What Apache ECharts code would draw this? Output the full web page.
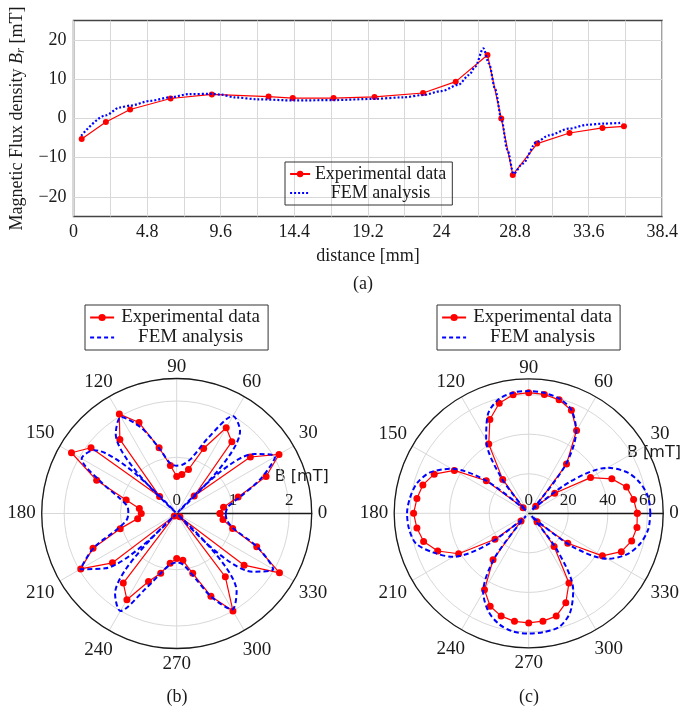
<!DOCTYPE html>
<html><head><meta charset="utf-8">
<script src="https://cdn.jsdelivr.net/npm/echarts@6/dist/echarts.min.js"></script>
<style>html,body{margin:0;padding:0;background:#fff}#c{width:681px;height:707px}</style>
</head><body><div id="c"></div><script>
// (a) line profile
const distExp = [0.53,2.11,3.69,6.33,9.02,12.72,14.3,16.96,19.63,22.8,24.93,27.0,27.9,28.65,30.24,32.35,34.5,35.9];
const brExp   = [-5.2,-0.9,2.3,5.1,6.15,5.6,5.2,5.2,5.5,6.5,9.4,16.2,0,-14.4,-6.4,-3.7,-2.4,-2.0];
const distFem = [0.5,2.1,3.0,3.7,5.0,6.3,7.5,9.0,9.6,10.5,12.0,14.4,17.0,19.6,21.5,22.8,24.0,25.1,25.8,26.2,26.73,27.1,27.5,27.9,28.3,28.7,29.3,30.2,31.0,32.3,33.5,34.6,35.8];
const brFem   = [-4.4,0.8,2.8,3.3,4.5,5.4,6.2,6.3,6.1,5.4,4.9,4.6,4.7,5.0,5.4,6.0,7.0,8.6,11.1,13.2,17.9,14.0,7.5,0,-8,-14.1,-11.5,-6.0,-4.3,-2.6,-1.6,-1.3,-1.1];
const xTicks = ['0','4.8','9.6','14.4','19.2','24','28.8','33.6','38.4'];
const yTicks = ['−20','−10','0','10','20'];
// (b) and (c) polar: angle in degrees
const angles = [0,7.5,15,22.5,30,37.5,45,52.5,60,67.5,75,82.5,90,97.5,105,112.5,120,127.5,135,142.5,150,157.5,165,172.5,180,187.5,195,202.5,210,217.5,225,232.5,240,247.5,255,262.5,270,277.5,285,292.5,300,307.5,315,322.5,330,337.5,345,352.5,360];
const expB = [0.77,0.84,1.13,1.72,2.10,1.65,0.44,1.61,1.76,1.25,0.81,0.70,0.66,0.86,1.21,1.75,2.04,1.66,0.43,1.92,2.16,1.54,0.93,0.67,0.63,0.70,1.04,1.61,1.97,1.44,0.06,1.56,1.77,1.31,1.10,0.89,0.80,0.84,1.10,1.59,2.00,1.42,0.08,1.51,2.11,1.54,1.03,0.83,0.77];
const femB = [0.87,0.92,1.18,1.62,2.02,1.74,0.03,1.85,2.00,1.45,1.02,0.88,0.85,0.90,1.20,1.65,1.98,1.78,0.03,1.85,1.95,1.45,1.05,0.88,0.86,0.90,1.10,1.60,1.98,1.60,0.03,1.80,2.00,1.45,1.10,0.92,0.87,0.92,1.15,1.60,1.97,1.75,0.03,1.70,1.98,1.55,1.05,0.90,0.87];
const expC = [54.9,53.5,51.2,45.5,36.1,16.6,5,31.4,48.4,56.4,59.4,60.6,61.0,60.5,57.6,51.3,40.4,21.6,4,27.0,43.4,51.7,55.4,57.0,58.2,57.0,55.0,49.8,40.9,21.5,5.5,29.6,44.7,50.9,53.8,55.1,55.4,55.0,53.8,49.0,40.7,21.1,6,24.9,43.0,50.7,53.9,55.2,54.9];
const femC = [61.5,61.0,58.5,54.0,46.0,26.0,2,30,48,56.5,60,61.3,61.8,61.5,59.5,54,43,23,2,27,45,54,58.5,60.5,61.5,61,59,52,44,25,2,28,46,53.5,58,60.3,60.8,60.5,59.5,54.5,45,24,2,27,46,54,58.5,61,61.5];
const bTicks = ['0','1','2'];
const cTicks = ['0','20','40','60'];

const SERIF = '"Liberation Serif", "Times New Roman", serif';
const RED = '#ff0000', BLUE = '#0000ff', INK = '#1a1a1a', GRID = '#d8d8d8';
const pair = (xs, ys) => xs.map((x, i) => [x, ys[i]]);
const polarPairs = (rs) => rs.map((r, i) => [r, angles[i]]);

function legendFor(left, top, fs, textW, iconW, iconH, lh, femDash) {
  return {
    orient: 'vertical', left: left, top: top, padding: [3, 6, 3, 4], itemGap: 1,
    itemWidth: iconW, itemHeight: iconH, borderColor: '#333', borderWidth: 1,
    data: ['Experimental data', { name: 'FEM analysis',
      itemStyle: { color: 'rgba(0,0,0,0)', borderColor: 'rgba(0,0,0,0)', borderWidth: 0 },
      lineStyle: { color: BLUE, width: 2.2, type: femDash } }],
    selectedMode: false,
    formatter: '{c|{name}}',
    textStyle: { fontFamily: SERIF, fontSize: fs, color: INK,
      rich: { c: { width: textW, align: 'center', fontFamily: SERIF, fontSize: fs, lineHeight: lh, color: INK } } }
  };
}
const angRich = {
  n: { fontFamily: SERIF, fontSize: 19, color: INK, lineHeight: 10 },
  r: { fontFamily: SERIF, fontSize: 19, color: INK, width: 14, align: 'right' },
  l: { fontFamily: SERIF, fontSize: 19, color: INK, width: 22, align: 'left' },
  lb: { fontFamily: SERIF, fontSize: 19, color: INK, width: 22, align: 'left', lineHeight: 29 },
  rb: { fontFamily: SERIF, fontSize: 19, color: INK, width: 24, align: 'right', lineHeight: 29 }
};
function angleAxis(idx) {
  return {
    polarIndex: idx, type: 'value', min: 0, max: 360, interval: 30, startAngle: 0, clockwise: false,
    axisLine: { lineStyle: { color: INK, width: 1.3 } }, axisTick: { show: false },
    axisLabel: { margin: 6, fontFamily: SERIF, fontSize: 19, color: INK, rich: angRich,
      formatter: v => {
        if (v >= 360) return '';
        if (v === 90) return '{n|90}';
        if (v === 60) return '{r|60}';
        if (v === 300) return '{rb|300}';
        if (v === 120) return '{l|120}';
        if (v === 240) return '{lb|240}';
        return String(v);
      } },
    splitLine: { show: true, lineStyle: { color: GRID, width: 1 } }
  };
}
function radiusAxis(idx, max, step, ticks) {
  return {
    polarIndex: idx, type: 'value', min: 0, max: max, interval: step,
    axisLine: { lineStyle: { color: INK, width: 1.3 } }, axisTick: { show: false },
    axisLabel: { fontFamily: SERIF, fontSize: 17, color: INK, margin: 4,
      formatter: v => { const s = String(Math.round(v * 1000) / 1000); return ticks.includes(s) ? s : ''; } },
    splitLine: { show: true, lineStyle: { color: GRID, width: 1 } }
  };
}

const chart = echarts.init(document.getElementById('c'), null, { renderer: 'canvas' });
chart.setOption({
  backgroundColor: '#fff',
  animation: false,
  grid: { left: 68, top: 20.5, width: 600, height: 196, show: true, borderColor: '#444', borderWidth: 1.5, containLabel: false },
  xAxis: {
    type: 'value', min: 0, max: 38.4, interval: 2.4,
    name: 'distance [mm]', nameLocation: 'middle', nameGap: 31,
    nameTextStyle: { fontFamily: SERIF, fontSize: 18, color: INK },
    axisLine: { show: false }, axisTick: { show: false },
    axisLabel: { margin: 7, fontFamily: SERIF, fontSize: 18, color: INK,
      formatter: v => { const s = String(+v.toFixed(1)); return xTicks.includes(s) ? s : ''; } },
    splitLine: { show: true, lineStyle: { color: GRID } }
  },
  yAxis: {
    type: 'value', min: -25, max: 25, interval: 5,
    name: '{t|Magnetic Flux density }{i|B}{s|r}{t| [mT]}', nameLocation: 'middle', nameGap: 44,
    nameTextStyle: { fontFamily: SERIF, fontSize: 18, color: INK,
      rich: { t: { fontFamily: SERIF, fontSize: 18, color: INK },
              i: { fontFamily: SERIF, fontSize: 18, fontStyle: 'italic', color: INK },
              s: { fontFamily: SERIF, fontSize: 13, fontStyle: 'italic', color: INK, padding: [8, 0, 0, 0] } } },
    axisLine: { show: false }, axisTick: { show: false },
    axisLabel: { margin: 7, fontFamily: SERIF, fontSize: 18, color: INK,
      formatter: v => { const s = v < 0 ? '−' + Math.abs(v) : String(v); return yTicks.includes(s) ? s : ''; } },
    splitLine: { show: true, lineStyle: { color: ['rgba(0,0,0,0)', GRID] } }
  },
  polar: [
    { center: [176.7, 513.5], radius: 135 },
    { center: [528.7, 513.3], radius: 134.5 }
  ],
  angleAxis: [angleAxis(0), angleAxis(1)],
  radiusAxis: [radiusAxis(0, 2.4, 1, bTicks), radiusAxis(1, 68, 20, cTicks)],
  legend: [
    legendFor(285, 162, 18, 131, 20, 8, 20, [2, 2]),
    legendFor(85, 305, 19, 143, 24, 9, 22, [4, 3]),
    legendFor(437, 305, 19, 143, 24, 9, 22, [4, 3])
  ],
  graphic: [
    { type: 'text', x: 363, y: 284, style: { text: '(a)', font: '18px ' + SERIF, fill: INK, textAlign: 'center', textVerticalAlign: 'middle' } },
    { type: 'text', x: 177, y: 697, style: { text: '(b)', font: '18px ' + SERIF, fill: INK, textAlign: 'center', textVerticalAlign: 'middle' } },
    { type: 'text', x: 529, y: 697, style: { text: '(c)', font: '18px ' + SERIF, fill: INK, textAlign: 'center', textVerticalAlign: 'middle' } },
    { type: 'text', x: 301.7, y: 477, style: { text: 'B [mT]', font: '16px "DejaVu Sans", sans-serif', fill: INK, textAlign: 'center', textVerticalAlign: 'middle' } },
    { type: 'text', x: 654, y: 453, style: { text: 'B [mT]', font: '16px "DejaVu Sans", sans-serif', fill: INK, textAlign: 'center', textVerticalAlign: 'middle' } }
  ],
  series: [
    { name: 'Experimental data', type: 'line', xAxisIndex: 0, yAxisIndex: 0, data: pair(distExp, brExp),
      symbol: 'circle', symbolSize: 6, itemStyle: { color: RED }, lineStyle: { color: RED, width: 1.2 }, z: 3 },
    { name: 'FEM analysis', type: 'line', xAxisIndex: 0, yAxisIndex: 0, data: pair(distFem, brFem),
      symbol: 'none', smooth: 0.3, smoothMonotone: 'x', itemStyle: { color: BLUE }, lineStyle: { color: BLUE, width: 2.2, type: [2, 2] }, z: 4 },
    { name: 'Experimental data', type: 'line', coordinateSystem: 'polar', polarIndex: 0, data: polarPairs(expB),
      symbol: 'circle', symbolSize: 7, itemStyle: { color: RED }, lineStyle: { color: RED, width: 1.2 }, z: 3 },
    { name: 'FEM analysis', type: 'line', coordinateSystem: 'polar', polarIndex: 0, data: polarPairs(femB),
      symbol: 'none', smooth: 0.3, itemStyle: { color: BLUE }, lineStyle: { color: BLUE, width: 2, type: [5, 3] }, z: 4 },
    { name: 'Experimental data', type: 'line', coordinateSystem: 'polar', polarIndex: 1, data: polarPairs(expC),
      symbol: 'circle', symbolSize: 7, itemStyle: { color: RED }, lineStyle: { color: RED, width: 1.2 }, z: 3 },
    { name: 'FEM analysis', type: 'line', coordinateSystem: 'polar', polarIndex: 1, data: polarPairs(femC),
      symbol: 'none', smooth: 0.3, itemStyle: { color: BLUE }, lineStyle: { color: BLUE, width: 2, type: [5, 3] }, z: 4 }
  ]
});
</script></body></html>
